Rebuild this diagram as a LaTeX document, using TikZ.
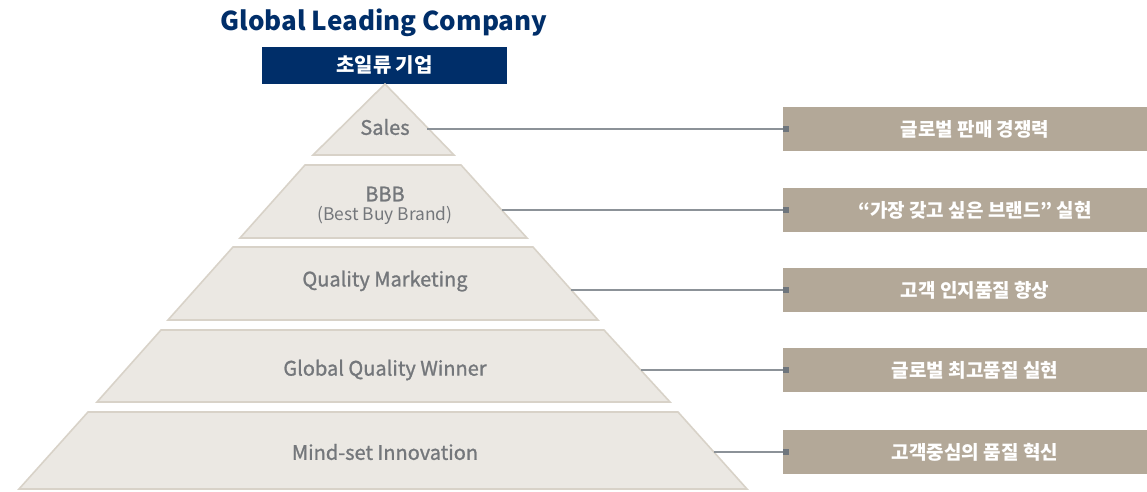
\documentclass[tikz,border=0pt]{standalone}
\usepackage{fontspec}
\setmainfont{Noto Sans CJK KR}
\newfontfamily\medio[FakeBold=1.2]{Noto Sans CJK KR}
\usetikzlibrary{arrows.meta}
\definecolor{blunotte}{HTML}{002E69}
\definecolor{sabbia}{HTML}{EBE8E3}
\definecolor{bordosabbia}{HTML}{D8D2C8}
\definecolor{tortora}{HTML}{B3A898}
\definecolor{grigiotesto}{HTML}{74777B}
\definecolor{grigiolinea}{HTML}{8C9298}
\definecolor{grigiopunto}{HTML}{6E757C}
\begin{document}
\begin{tikzpicture}
        [x=0.5pt,y=-0.5pt,
         livello/.style={fill=sabbia, draw=bordosabbia, line width=0.8pt},
         etichetta/.style={text=grigiotesto, font=\fontsize{10}{12}\selectfont\medio, inner sep=0pt},
         riquadro/.style={fill=tortora, text=white, minimum width=192pt, minimum height=22pt,
                          inner sep=0pt, font=\fontsize{9.5}{11}\selectfont\bfseries},
         collegamento/.style={draw=grigiolinea, line width=0.75pt,
                              -{Square[length=3pt,width=3pt,fill=grigiopunto,color=grigiopunto]}}]
            \useasboundingbox (0,0) rectangle (1147,492);
            %titolo e riquadro in cima
            \node (titolo) at (384,23)[text=blunotte, font=\fontsize{13}{15}\selectfont\bfseries]{Global Leading Company};
            \node (cima) at (384.5,65.5)[fill=blunotte, text=white, minimum width=122.5pt, minimum height=18.5pt,
                  inner sep=0pt, font=\fontsize{10}{12}\selectfont\bfseries]{초일류 기업};
            %disegno livelli piramide
            \filldraw[livello] (385,84)--(454,155)--(313,155)--cycle;
            \filldraw[livello] (305,165)--(461,165)--(527,238)--(240,238)--cycle;
            \filldraw[livello] (233,247)--(533,247)--(598,320)--(168,320)--cycle;
            \filldraw[livello] (161,330)--(604,330)--(670,402)--(97,402)--cycle;
            \filldraw[livello] (88,412)--(678,412)--(747,489)--(19,489)--cycle;
            %label livelli
            \node (sales) at (385,127)[etichetta]{Sales};
            \node (bbb) at (385,194)[etichetta]{BBB};
            \node (bbbsub) at (385,215)[etichetta, font=\fontsize{8.7}{10}\selectfont]{(Best Buy Brand)};
            \node (qm) at (385,281)[etichetta]{Quality Marketing};
            \node (gqw) at (385,370)[etichetta]{Global Quality Winner};
            \node (mind) at (385,452)[etichetta]{Mind-set Innovation};
            %riquadri a destra
            \node (r1) at (975,129)[riquadro]{글로벌 판매 경쟁력};
            \node (r2) at (975,210)[riquadro]{“가장 갖고 싶은 브랜드” 실현};
            \node (r3) at (975,290)[riquadro]{고객 인지품질 향상};
            \node (r4) at (975,370)[riquadro]{글로벌 최고품질 실현};
            \node (r5) at (975,452)[riquadro]{고객중심의 품질 혁신};
            %punti di partenza sui bordi
            \coordinate (p1) at (427,129);
            \coordinate (p2) at (502,210);
            \coordinate (p3) at (571,290);
            \coordinate (p4) at (641,370);
            \coordinate (p5) at (714,452);
            %collegamenti
            \draw[collegamento] (p1) -- ([xshift=3pt]r1.west);
            \draw[collegamento] (p2) -- ([xshift=3pt]r2.west);
            \draw[collegamento] (p3) -- ([xshift=3pt]r3.west);
            \draw[collegamento] (p4) -- ([xshift=3pt]r4.west);
            \draw[collegamento] (p5) -- ([xshift=3pt]r5.west);
    \end{tikzpicture}
\end{document}
